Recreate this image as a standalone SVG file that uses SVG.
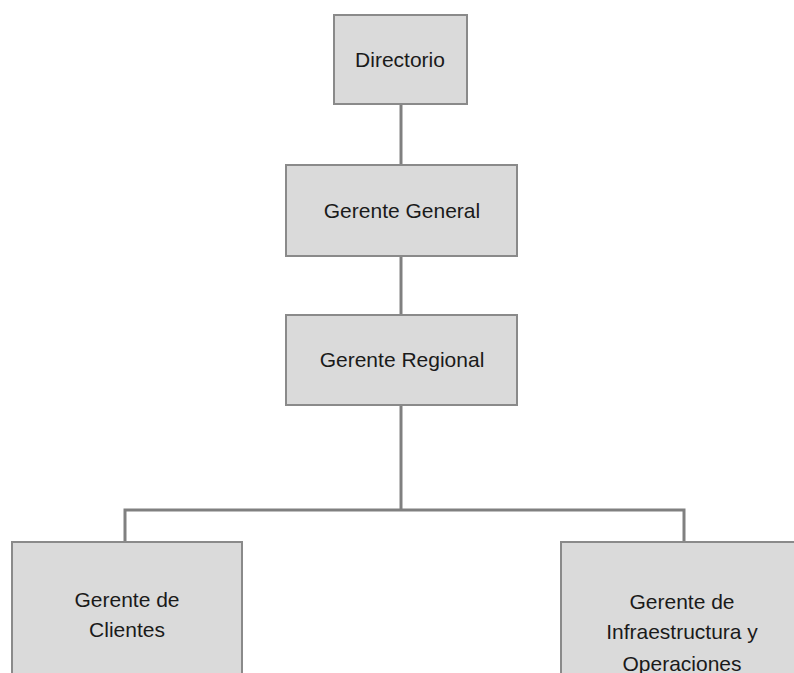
<svg xmlns="http://www.w3.org/2000/svg" width="794" height="673" viewBox="0 0 794 673">
<style>
.box{fill:#dadada;stroke:#8a8a8a;stroke-width:2}
.lbl{font-family:"Liberation Sans",Arial,sans-serif;font-size:21px;fill:#1a1a1a;text-anchor:middle}
.con{fill:none;stroke:#808080;stroke-width:3}
</style>
<rect width="794" height="673" fill="#ffffff"/>
<g id="connectors">
<line class="con" x1="401" y1="104" x2="401" y2="165"/>
<line class="con" x1="401" y1="256" x2="401" y2="315"/>
<line class="con" x1="401" y1="405" x2="401" y2="510"/>
<polyline class="con" points="125,542 125,510 684,510 684,542"/>
</g>
<g id="directorio">
<rect class="box" x="334" y="15" width="133" height="89"/>
<text class="lbl" x="400" y="67">Directorio</text>
</g>
<g id="gerente-general">
<rect class="box" x="286" y="165" width="231" height="91"/>
<text class="lbl" x="402" y="218">Gerente General</text>
</g>
<g id="gerente-regional">
<rect class="box" x="286" y="315" width="231" height="90"/>
<text class="lbl" x="402" y="367">Gerente Regional</text>
</g>
<g id="gerente-clientes">
<rect class="box" x="12" y="542" width="230" height="140"/>
<text class="lbl" x="127" y="607">Gerente de</text>
<text class="lbl" x="127" y="637">Clientes</text>
</g>
<g id="gerente-infraestructura">
<rect class="box" x="561" y="542" width="242" height="140"/>
<text class="lbl" x="682" y="609">Gerente de</text>
<text class="lbl" x="682" y="639">Infraestructura y</text>
<text class="lbl" x="682" y="671">Operaciones</text>
</g>
</svg>
